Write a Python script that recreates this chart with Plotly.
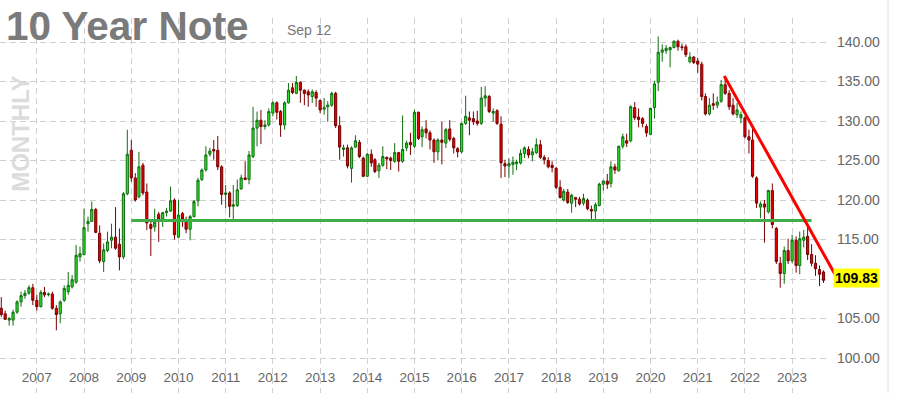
import pandas as pd
import plotly.graph_objects as go

# ---------------- data (monthly OHLC, Apr 2006 .. Sep 2023) ----------------
open_ = [
    106.3, 105.6, 104.8, 104.8, 105.8, 107.1, 107.9, 108.2, 108.9,  # 2006 Apr-Dec
    107.3, 106.5, 108.3, 108.0, 108.1, 106.3, 105.6, 107.3, 108.4, 109.0, 109.6, 112.8,  # 2007
    113.1, 117.0, 117.3, 118.8, 115.8, 112.2, 113.6, 114.9, 115.3, 114.4, 112.8, 120.8,  # 2008
    126.3, 122.8, 120.4, 124.4, 121.0, 116.9, 116.6, 118.2, 117.6, 118.4, 118.6, 120.0,  # 2009
    115.3, 118.3, 117.4, 116.3, 117.9, 119.9, 122.6, 123.8, 125.8, 126.4, 126.3, 124.2,  # 2010
    120.7, 120.9, 119.2, 119.3, 121.4, 122.8, 122.6, 125.5, 129.1, 130.1, 129.3, 129.5,  # 2011
    131.0, 132.3, 131.2, 129.5, 132.3, 134.2, 133.5, 134.9, 133.9, 133.7, 133.1, 133.6,  # 2012
    132.6, 131.5, 131.8, 132.0, 133.5, 129.4, 126.4, 126.6, 124.0, 126.7, 127.3, 125.3,  # 2013
    123.0, 125.8, 125.1, 123.7, 124.4, 125.4, 125.3, 124.9, 126.0, 124.9, 126.6, 127.3,  # 2014
    126.8, 131.1, 128.0, 129.0, 128.5, 127.6, 126.1, 127.6, 127.2, 129.0, 127.8, 126.5,  # 2015
    126.1, 129.7, 130.4, 130.3, 130.0, 129.7, 132.9, 133.1, 131.0, 131.3, 129.6, 124.6,  # 2016
    124.3, 124.5, 124.6, 124.7, 125.9, 126.4, 125.7, 126.0, 127.0, 125.4, 125.0, 124.4,  # 2017
    124.0, 121.6, 120.0, 121.0, 119.6, 120.3, 120.1, 119.6, 120.0, 118.8, 118.6, 119.3,  # 2018
    122.0, 122.4, 122.1, 124.2, 123.7, 126.8, 127.5, 127.5, 131.7, 130.5, 130.3, 129.3,  # 2019
    128.3, 131.7, 134.9, 138.7, 138.9, 139.0, 139.3, 140.1, 139.4, 139.4, 137.5, 138.1,  # 2020
    137.6, 137.2, 133.1, 130.9, 132.2, 132.0, 132.5, 134.6, 133.5, 132.0, 130.8, 130.4,  # 2021
    130.4, 128.0, 127.6, 122.8, 119.1, 119.5, 118.5, 121.2, 116.4, 112.0, 110.7, 113.6,  # 2022
    112.3, 114.9, 111.7, 114.9, 115.4, 113.1, 112.0, 111.2, 110.9,  # 2023 Jan-Sep
]
high = [
    107.7, 106.0, 105.2, 106.1, 107.3, 108.4, 108.6, 109.2, 109.4,
    108.0, 108.6, 109.0, 108.3, 108.4, 106.7, 107.3, 109.2, 110.9, 110.5, 114.3, 114.1,
    118.9, 117.9, 119.8, 119.0, 116.8, 114.5, 116.0, 117.0, 119.1, 116.4, 121.0, 128.9,
    127.6, 123.4, 126.1, 124.7, 122.1, 117.5, 118.9, 118.5, 118.5, 119.0, 121.7, 120.2,
    120.0, 118.5, 117.9, 118.1, 120.0, 122.8, 124.0, 126.8, 126.6, 127.6, 128.1, 124.4,
    121.9, 121.1, 121.9, 122.6, 123.2, 124.9, 126.2, 131.8, 131.2, 131.4, 130.1, 131.6,
    132.5, 132.5, 131.4, 132.5, 134.8, 134.8, 135.7, 135.0, 134.0, 134.0, 134.0, 133.9,
    132.7, 132.9, 132.5, 133.7, 133.7, 130.6, 127.0, 127.0, 126.8, 128.2, 127.6, 125.5,
    125.9, 126.4, 125.3, 124.7, 126.8, 125.5, 125.5, 127.2, 126.1, 130.7, 127.5, 128.5,
    131.4, 131.2, 129.3, 130.1, 128.8, 127.8, 127.8, 129.9, 129.1, 130.1, 128.0, 126.7,
    129.8, 133.2, 131.2, 131.2, 131.3, 134.3, 134.4, 133.3, 131.6, 131.5, 130.6, 125.1,
    125.3, 125.5, 125.1, 126.4, 126.8, 126.8, 126.6, 127.8, 127.6, 125.7, 125.4, 124.9,
    124.2, 122.5, 121.4, 121.4, 120.8, 120.4, 120.4, 120.8, 120.2, 119.3, 119.7, 122.2,
    122.5, 123.3, 124.9, 124.6, 126.9, 128.4, 128.4, 132.0, 132.4, 131.6, 130.5, 129.6,
    131.7, 135.1, 140.7, 139.7, 139.6, 139.4, 140.2, 140.3, 139.8, 139.7, 138.7, 138.2,
    138.0, 137.5, 133.5, 132.9, 133.5, 133.1, 135.2, 135.4, 133.9, 132.9, 132.3, 131.2,
    130.6, 128.9, 129.3, 123.0, 119.8, 120.0, 121.3, 122.1, 116.6, 112.8, 114.1, 115.1,
    115.6, 115.4, 116.0, 116.2, 116.8, 114.4, 113.0, 111.7, 111.1,
]
low = [
    105.2, 104.8, 104.1, 104.1, 105.6, 106.5, 107.5, 108.0, 106.7,
    106.0, 106.4, 107.7, 107.8, 106.1, 103.5, 104.4, 107.1, 108.0, 108.8, 109.4, 112.2,
    113.0, 116.0, 117.2, 115.8, 112.0, 110.9, 113.4, 113.9, 113.7, 111.1, 112.5, 120.6,
    122.3, 119.8, 120.2, 120.6, 116.2, 112.9, 116.0, 114.7, 116.6, 117.9, 118.5, 115.0,
    115.2, 116.6, 115.8, 114.9, 117.8, 119.2, 122.4, 123.6, 125.5, 125.1, 123.8, 119.4,
    119.0, 117.8, 117.6, 119.1, 121.3, 122.5, 122.0, 125.3, 126.8, 127.1, 128.9, 129.3,
    130.6, 130.2, 128.0, 128.9, 132.2, 133.4, 133.4, 132.3, 132.0, 131.8, 132.3, 131.8,
    131.0, 130.8, 129.9, 131.8, 129.1, 125.1, 125.5, 124.0, 122.2, 126.6, 125.3, 122.9,
    122.9, 124.2, 123.4, 122.8, 124.2, 123.9, 123.8, 124.7, 123.6, 124.7, 126.2, 125.7,
    126.6, 127.6, 126.7, 127.8, 126.4, 124.7, 125.0, 124.5, 126.6, 127.4, 125.9, 125.4,
    125.9, 129.5, 128.2, 129.5, 129.4, 129.5, 131.8, 131.0, 129.9, 129.5, 122.8, 122.9,
    122.8, 123.2, 123.8, 124.5, 125.3, 125.3, 124.9, 125.8, 125.2, 124.5, 124.0, 123.5,
    121.4, 120.2, 119.8, 119.5, 118.4, 119.1, 119.3, 119.3, 118.7, 117.6, 117.6, 119.2,
    121.2, 121.4, 121.6, 123.3, 123.6, 126.5, 126.7, 127.3, 130.1, 129.2, 129.2, 128.0,
    128.2, 130.3, 133.8, 137.5, 138.5, 136.8, 139.2, 138.9, 138.9, 138.1, 137.3, 137.2,
    136.1, 132.6, 130.7, 130.7, 131.4, 131.6, 132.3, 133.3, 131.4, 130.7, 130.4, 129.7,
    127.8, 125.9, 122.8, 119.0, 117.7, 114.6, 118.3, 116.4, 111.9, 108.9, 109.4, 111.9,
    112.0, 110.8, 110.6, 114.0, 112.4, 111.6, 110.4, 109.1, 109.5,
]
close = [
    105.5, 104.9, 105.0, 105.8, 107.1, 107.9, 108.2, 108.9, 107.3,
    106.5, 108.3, 108.0, 108.1, 106.3, 105.5, 107.1, 108.8, 109.2, 109.9, 113.0, 113.2,
    116.5, 117.3, 118.8, 115.9, 112.3, 113.7, 114.7, 115.3, 113.9, 112.8, 120.8, 125.8,
    122.8, 120.0, 124.2, 120.9, 117.1, 116.4, 117.2, 117.6, 118.4, 118.6, 119.9, 115.6,
    118.1, 117.6, 116.3, 117.9, 119.8, 122.5, 123.8, 125.7, 126.2, 126.2, 124.2, 120.7,
    120.9, 119.2, 119.4, 121.3, 122.8, 122.6, 125.7, 129.1, 130.1, 129.3, 129.5, 131.2,
    132.3, 131.1, 129.5, 132.3, 133.9, 133.6, 134.9, 133.9, 133.5, 133.3, 133.7, 132.9,
    131.4, 131.7, 132.0, 133.5, 129.4, 126.7, 126.6, 124.3, 126.6, 127.5, 125.5, 123.0,
    125.8, 124.7, 123.6, 124.4, 125.5, 125.2, 125.0, 126.0, 124.9, 126.4, 127.2, 127.0,
    131.1, 127.8, 128.9, 128.5, 127.6, 126.1, 127.6, 127.3, 128.9, 127.7, 126.6, 126.1,
    129.7, 130.6, 130.1, 129.9, 129.7, 132.9, 133.2, 131.2, 131.2, 129.7, 124.7, 124.3,
    124.6, 124.8, 124.8, 125.9, 126.6, 125.7, 126.1, 127.0, 125.4, 125.1, 124.2, 124.1,
    121.6, 120.3, 121.1, 119.7, 120.6, 120.1, 119.5, 120.2, 118.9, 118.6, 119.4, 122.0,
    122.4, 122.0, 124.2, 123.8, 126.8, 128.0, 127.2, 131.8, 130.4, 130.2, 129.7, 128.5,
    131.6, 134.7, 138.7, 139.0, 139.2, 139.3, 140.1, 139.4, 139.3, 138.4, 138.1, 137.4,
    137.2, 133.1, 130.9, 132.0, 132.0, 132.4, 134.6, 133.5, 131.8, 130.9, 131.4, 130.8,
    128.0, 127.6, 123.0, 119.6, 119.5, 119.1, 121.2, 116.9, 112.2, 110.7, 113.6, 112.3,
    114.9, 111.7, 115.1, 115.3, 113.1, 112.0, 111.3, 110.6, 109.83,
]
months = pd.date_range("2006-04-01", periods=len(close), freq="MS")

SUPPORT_LEVEL = 117.4
SUPPORT_DATES = ["2009-01-01", "2023-06-01"]
TREND_DATES = ["2021-07-25", "2023-12-05"]
TREND_PRICES = [135.7, 110.4]
LAST_PRICE = close[-1]

X_RANGE = ["2006-03-22", "2023-09-28"]
Y_RANGE = [95.57, 143.04]
Y_TICKS = [100, 105, 110, 115, 120, 125, 130, 135, 140]
# the 110.00 label sits under the last-price marker in the original
Y_TICK_TEXT = ["" if v == 110 else f"{v:.2f}" for v in Y_TICKS]

FONT = "Liberation Sans, Arial, Helvetica, sans-serif"

_x0 = pd.Timestamp(X_RANGE[0]).value
_x1 = pd.Timestamp(X_RANGE[1]).value


def xfrac(d):
    return (pd.Timestamp(d).value - _x0) / (_x1 - _x0)


def yfrac(v):
    return (v - Y_RANGE[0]) / (Y_RANGE[1] - Y_RANGE[0])


fig = go.Figure()
fig.add_trace(go.Candlestick(
    x=months, open=open_, high=high, low=low, close=close,
    increasing=dict(line=dict(color="#0f6e0f", width=1), fillcolor="#2ee52e"),
    decreasing=dict(line=dict(color="#7a0000", width=1), fillcolor="#e80000"),
    whiskerwidth=0, showlegend=False, hoverinfo="skip",
))

grid = dict(showgrid=True, gridcolor="#cfcfcf", gridwidth=1.2, griddash="6px,4px")

fig.update_layout(
    width=900, height=393,
    margin=dict(l=0, r=73, t=18, b=0),
    paper_bgcolor="white", plot_bgcolor="white",
    font=dict(family=FONT, color="#666666"),
    showlegend=False,
    boxgap=0.15,
    xaxis=dict(
        type="date", range=X_RANGE, rangeslider=dict(visible=False),
        anchor="free", position=0.069,
        tick0="2007-01-01", dtick="M12", tickformat="%Y",
        ticks="", showline=False, zeroline=False,
        tickfont=dict(size=13.5, color="#666666", family=FONT),
        **grid,
    ),
    yaxis=dict(
        range=Y_RANGE, side="right", tickvals=Y_TICKS, ticktext=Y_TICK_TEXT,
        ticks="", showline=False, zeroline=False, ticklabelstandoff=9,
        tickfont=dict(size=14, color="#666666", family=FONT),
        **grid,
    ),
)

shapes = [
    dict(type="rect", xref="paper", yref="paper", x0=0, x1=0.411, y0=0.932, y1=1.0,
         fillcolor="white", line=dict(width=0), layer="between"),
    dict(type="line", xref="x", yref="y", x0=SUPPORT_DATES[0], x1=SUPPORT_DATES[1],
         y0=SUPPORT_LEVEL, y1=SUPPORT_LEVEL, line=dict(color="#3fae49", width=3)),
    dict(type="line", xref="paper", yref="paper",
         x0=xfrac(TREND_DATES[0]), x1=xfrac(TREND_DATES[1]),
         y0=yfrac(TREND_PRICES[0]), y1=yfrac(TREND_PRICES[1]),
         line=dict(color="#ff0000", width=3)),
    dict(type="line", xref="paper", yref="paper", x0=1.0738, x1=1.0738, y0=-0.05, y1=1.05,
         line=dict(color="#ebebeb", width=1.5)),
]
fig.update_layout(shapes=shapes)

fig.add_annotation(text="10 Year Note", xref="paper", yref="paper", x=0.005, y=1.046,
                   xanchor="left", yanchor="top", showarrow=False,
                   font=dict(family=FONT, size=40.5, color="#7a7a7a", weight="bold"))
fig.add_annotation(text="Sep 12", xref="paper", yref="paper", x=0.3746, y=0.9667,
                   xanchor="center", yanchor="middle", showarrow=False,
                   font=dict(family=FONT, size=14, color="#777777"))
fig.add_annotation(text="MONTHLY", xref="paper", yref="paper", x=0.0252, y=0.6907,
                   xanchor="center", yanchor="middle", showarrow=False, textangle=-90,
                   font=dict(family=FONT, size=24, color="#dcdcdc", weight="bold"))
fig.add_annotation(text=f"{LAST_PRICE:.2f}", xref="paper", yref="y", x=1.0073, y=LAST_PRICE,
                   xanchor="left", yanchor="middle", yshift=2, showarrow=False,
                   bgcolor="#ffff00", borderpad=1,
                   font=dict(family=FONT, size=14, color="#000000", weight="bold"))

fig.write_html("out.html", config={"displayModeBar": False},
               post_script="document.body.style.margin='0px';")
